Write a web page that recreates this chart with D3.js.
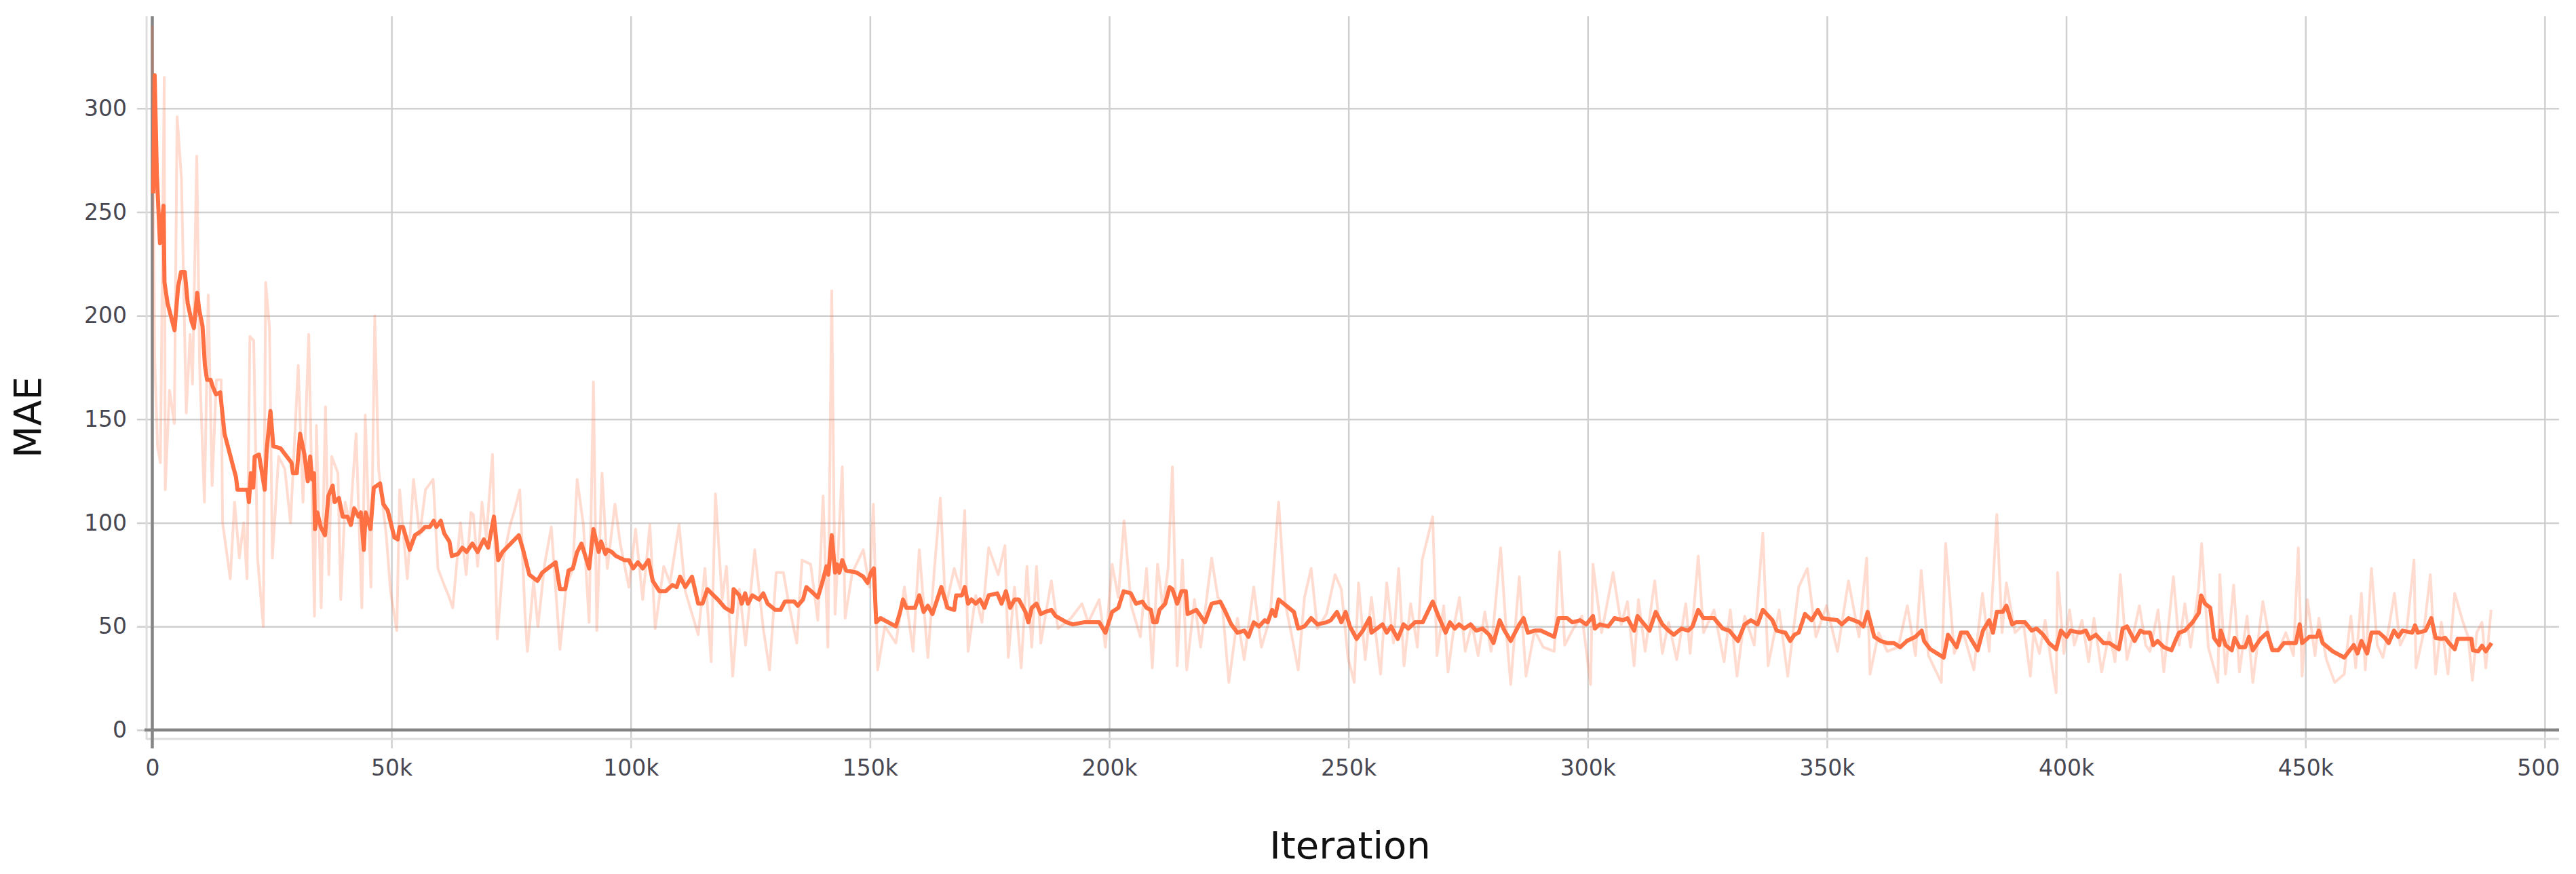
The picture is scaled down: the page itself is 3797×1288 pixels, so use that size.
<!DOCTYPE html>
<html>
<head>
<meta charset="utf-8">
<script src="https://cdnjs.cloudflare.com/ajax/libs/d3/7.8.5/d3.min.js"></script>
<style>
html, body { margin: 0; padding: 0; background: #ffffff; }
svg { display: block; }
</style>
</head>
<body>
<div id="chart"></div>
<script>
"use strict"

const width = 3797;
const height = 1288;
const plotLeft = 216;
const plotRight = 3772;
const plotTop = 24;
const plotBottom = 1089;
const tickStub = 14;

const lineColor = "#ff7043";
const gridColor = "#d0d0d0";
const axisColor = "#858585";
const tickTextColor = "#474752";

// iterations are in thousands
const xDomain = [-1.2, 503];
const yDomain = [-4.3, 344.5];

const xTicks = [0, 50, 100, 150, 200, 250, 300, 350, 400, 450, 500];
const xTickLabels = ["0", "50k", "100k", "150k", "200k", "250k", "300k", "350k", "400k", "450k", "500k"];
const yTicks = [0, 50, 100, 150, 200, 250, 300];
const yTickLabels = ["0", "50", "100", "150", "200", "250", "300"];

const xTitle = "Iteration";
const yTitle = "MAE";

// smoothed curve
const smoothIter = [
    0.2, 0.5, 0.96, 1.6, 2.35, 2.55, 3.2, 4.65, 5.4, 6.0, 6.8, 7.4, 8.24, 8.7, 9.4, 9.8, 10.5, 11.0, 11.45, 12.2,
    12.6, 13.3, 14.2, 15.1, 17.5, 17.8, 19.9, 20.2, 20.6, 21.1, 21.4, 22.3, 23.5, 23.9, 24.7, 25.3, 26.8, 29.1, 29.4, 30.2,
    30.9, 31.8, 32.5, 33.0, 33.4, 33.8, 34.0, 34.5, 35.2, 36.1, 36.8, 37.7, 38.1, 39.0, 39.8, 40.8, 41.5, 42.2, 43.1, 43.6,
    44.2, 44.6, 45.6, 46.3, 47.6, 48.3, 49.2, 50.6, 51.3, 51.7, 52.4, 53.8, 54.9, 56.2, 57.0, 58.0, 58.8, 59.4, 60.3, 61.0,
    62.1, 62.6, 63.9, 64.8, 65.7, 66.9, 68.0, 69.3, 70.2, 71.4, 72.3, 73.2, 76.6, 77.5, 78.8, 80.5, 81.5, 84.3, 85.2, 86.3,
    87.0, 87.9, 88.8, 89.7, 91.3, 92.2, 93.3, 93.8, 94.7, 95.1, 96.0, 96.9, 98.7, 99.6, 100.5, 101.5, 102.5, 103.7, 104.6, 106.0,
    107.3, 108.7, 109.6, 110.3, 111.4, 112.8, 114.1, 115.0, 116.0, 117.3, 118.2, 119.7, 121.2, 121.5, 122.7, 123.2, 123.9, 124.5, 125.4, 126.8,
    127.7, 128.6, 130.2, 131.3, 132.2, 134.2, 134.9, 136.0, 136.7, 137.7, 139.1, 140.0, 140.9, 141.3, 142.0, 142.7, 143.1, 143.6, 144.2, 145.0,
    147.2, 148.6, 149.5, 150.2, 150.8, 151.3, 152.2, 155.4, 156.3, 156.9, 157.6, 159.4, 160.3, 161.2, 162.1, 163.05, 164.9, 166.2, 167.6, 168.0,
    169.2, 169.8, 170.5, 171.2, 172.1, 173.0, 173.9, 174.8, 176.6, 177.5, 178.4, 179.3, 180.2, 181.1, 182.5, 183.1, 183.8, 184.8, 185.7, 186.6,
    187.9, 188.8, 191.1, 192.4, 194.7, 196.5, 197.9, 199.2, 200.6, 201.9, 203.0, 204.5, 205.6, 206.9, 207.8, 208.7, 209.2, 209.9, 210.5, 211.7,
    212.6, 213.2, 214.2, 215.1, 216.0, 216.4, 218.2, 220.0, 221.4, 223.2, 224.1, 225.5, 226.8, 228.2, 229.1, 230.2, 231.3, 232.5, 233.1, 234.05,
    234.7, 235.4, 238.6, 239.5, 240.8, 242.2, 243.5, 245.4, 246.3, 247.6, 248.5, 249.4, 250.3, 251.7, 253.0, 254.4, 254.8, 257.1, 258.0, 258.9,
    260.3, 261.5, 262.5, 263.9, 265.5, 267.6, 268.8, 270.3, 271.2, 272.2, 273.1, 274.2, 275.5, 276.7, 278.0, 279.4, 280.3, 281.6, 282.6, 283.9,
    285.7, 286.6, 287.5, 288.9, 290.2, 293.0, 293.9, 295.7, 296.8, 298.4, 299.7, 301.1, 301.5, 302.5, 304.3, 305.6, 307.4, 308.3, 309.7, 310.4,
    312.9, 314.2, 315.6, 316.9, 318.0, 319.6, 321.0, 321.9, 323.1, 324.2, 326.4, 328.2, 329.6, 331.4, 332.8, 334.1, 335.5, 336.6, 338.6, 339.5,
    341.3, 342.3, 343.2, 344.1, 345.4, 346.8, 348.1, 349.0, 352.2, 353.1, 354.5, 356.7, 357.6, 358.5, 359.9, 361.2, 362.6, 364.0, 365.3, 366.7,
    368.5, 369.8, 370.3, 371.6, 373.0, 374.4, 375.3, 376.2, 377.1, 378.0, 379.3, 381.5, 382.6, 383.9, 384.7, 385.5, 386.7, 387.5, 388.7, 389.5,
    391.4, 392.8, 393.8, 395.2, 396.4, 397.9, 398.9, 400.1, 400.9, 402.9, 404.1, 404.9, 406.2, 407.8, 409.0, 411.0, 411.8, 412.7, 414.3, 415.5,
    416.3, 417.5, 418.2, 419.1, 420.4, 422.0, 422.8, 423.6, 424.8, 426.4, 427.7, 428.2, 429.0, 430.1, 430.9, 432.0, 432.3, 433.3, 434.6, 435.2,
    436.2, 437.4, 438.2, 439.0, 440.6, 442.0, 443.1, 444.3, 445.5, 448.0, 448.8, 449.3, 450.8, 452.4, 452.8, 453.6, 455.7, 458.1, 460.1, 460.9,
    461.7, 462.9, 463.8, 465.4, 466.6, 467.4, 468.5, 469.4, 470.3, 472.3, 472.9, 473.5, 475.1, 476.3, 477.2, 478.4, 479.2, 480.0, 481.2, 481.8,
    484.7, 485.0, 486.1, 486.9, 487.7, 488.9
];
const smoothMae = [
    259, 316, 268, 235, 253, 216, 206, 193, 214, 221, 221, 206, 197, 194, 211, 203, 195, 176, 169, 169,
    166, 162, 163, 143, 122, 116, 116, 110, 124, 117, 132, 133, 116, 135, 154, 137, 136, 129, 124, 124,
    143, 133, 120, 132, 121, 124, 97, 105, 98, 94, 113, 118, 110, 112, 103, 103, 99, 107, 103, 105,
    87, 105, 97, 117, 119, 109, 106, 93, 92, 98, 98, 87, 94, 96, 98, 98, 101, 98, 101, 95,
    91, 84, 85, 88, 86, 90, 86, 92, 88, 103, 82, 86, 94, 87, 75, 72, 76, 81, 68, 68,
    77, 78, 86, 90, 78, 97, 86, 91, 85, 87, 86, 84, 82, 82, 78, 81, 78, 82, 72, 67,
    67, 70, 69, 74, 69, 74, 61, 61, 68, 65, 63, 59, 57, 68, 65, 61, 66, 61, 65, 63,
    66, 61, 58, 58, 62, 62, 60, 63, 69, 67, 64, 71, 79, 75, 94, 76, 80, 76, 82, 77,
    76, 74, 71, 76, 78, 52, 54, 50, 57, 63, 59, 59, 65, 57, 60, 56, 69, 59, 58, 65,
    65, 69, 61, 63, 61, 63, 59, 65, 66, 61, 67, 59, 63, 63, 57, 52, 59, 61, 56, 57,
    58, 55, 52, 51, 52, 52, 52, 47, 57, 59, 67, 66, 61, 62, 59, 58, 52, 52, 58, 61,
    69, 68, 61, 67, 67, 56, 58, 52, 61, 62, 58, 51, 47, 48, 45, 52, 50, 53, 52, 58,
    55, 63, 57, 49, 50, 54, 51, 52, 53, 57, 52, 57, 50, 44, 48, 54, 47, 51, 47, 50,
    44, 51, 49, 52, 52, 62, 55, 47, 52, 49, 51, 49, 51, 48, 49, 46, 42, 53, 48, 43,
    51, 54, 47, 48, 48, 45, 54, 54, 52, 53, 51, 55, 49, 51, 50, 54, 53, 54, 48, 55,
    48, 57, 51, 48, 46, 49, 48, 50, 58, 54, 54, 49, 48, 43, 51, 53, 51, 58, 53, 48,
    47, 43, 46, 47, 56, 53, 58, 54, 53, 51, 54, 52, 50, 57, 45, 43, 42, 42, 40, 43,
    45, 48, 43, 39, 37, 35, 46, 43, 40, 47, 47, 38.5, 48, 53, 47, 57, 57, 60, 51, 52,
    52, 48, 49, 46, 42, 39, 48, 45, 48, 47, 48, 44, 46, 42, 42, 39, 49, 50, 43, 48,
    47, 47, 41, 43, 40, 38.5, 43, 47, 48, 52, 56.5, 65, 61, 59, 44.5, 41, 48, 41, 38.5, 44.5,
    40, 40, 45, 38.5, 44, 47, 38.5, 38.5, 42, 42, 51, 42, 45, 45, 48, 42, 38, 35, 41, 37,
    43, 37, 47, 47, 44.5, 42, 48, 45, 48, 47, 50.5, 47, 48, 54, 44.5, 44, 44.5, 42, 39, 44,
    44, 38.5, 38, 40.7, 38, 42
];

// raw (unsmoothed) curve
const rawIter = [
    0, 0.5, 1.1, 1.7, 2.5, 2.7, 3.6, 4.6, 5.2, 6.1, 7.1, 7.9, 8.4, 9.3, 9.9, 10.9, 11.7, 12.5, 13.4, 14.4,
    14.7, 16.3, 17.2, 18.2, 19.1, 19.8, 20.4, 21.2, 22.0, 23.2, 23.7, 24.5, 25.1, 26.4, 27.7, 28.9, 30.5, 31.5, 32.7, 33.9,
    34.3, 35.3, 36.2, 36.9, 37.5, 38.8, 39.4, 40.3, 41.3, 42.6, 43.8, 44.5, 45.7, 46.5, 47.3, 48.9, 49.8, 51.1, 51.7, 53.3,
    54.6, 55.9, 57.1, 58.7, 59.7, 61.0, 61.9, 62.8, 64.4, 65.6, 66.6, 67.1, 68.0, 68.9, 69.8, 71.1, 72.1, 73.4, 74.8, 75.7,
    76.8, 77.9, 78.4, 79.7, 80.6, 82.0, 83.4, 85.2, 86.5, 87.9, 88.8, 90.1, 91.3, 92.2, 92.9, 94.0, 95.1, 96.7, 97.8, 99.6,
    101.0, 102.5, 104.0, 105.1, 106.9, 108.2, 110.1, 111.4, 114.1, 115.5, 116.8, 117.7, 119.1, 120.0, 121.3, 122.7, 124.0, 125.9, 127.7, 129.0,
    130.4, 131.9, 133.1, 134.7, 135.8, 137.6, 139.1, 140.2, 141.2, 142.0, 142.7, 144.2, 144.8, 146.3, 148.6, 149.9, 150.7, 151.6, 153.1, 155.4,
    157.2, 159.0, 160.3, 162.1, 163.5, 164.7, 165.8, 167.6, 168.9, 169.8, 170.5, 172.1, 173.4, 174.8, 176.8, 178.2, 178.9, 180.2, 181.6, 182.8,
    183.8, 184.8, 185.7, 187.9, 189.3, 192.0, 194.3, 195.6, 197.9, 199.2, 200.6, 201.9, 203.1, 204.6, 206.5, 207.8, 209.0, 210.1, 211.2, 212.3,
    213.2, 214.2, 215.3, 216.2, 217.8, 219.1, 221.4, 222.7, 223.6, 225.0, 226.8, 228.2, 230.2, 231.8, 233.6, 235.4, 236.8, 238.1, 239.5, 240.8,
    242.2, 243.5, 245.4, 247.2, 248.5, 249.9, 251.2, 252.1, 253.5, 254.8, 256.7, 258.0, 259.4, 260.5, 261.6, 263.0, 264.4, 265.4, 267.6, 268.5,
    269.9, 270.8, 272.2, 273.2, 274.4, 275.8, 277.1, 278.5, 279.8, 281.8, 283.0, 283.9, 285.7, 287.1, 288.9, 290.7, 293.0, 294.1, 295.2, 297.0,
    298.8, 300.6, 301.1, 302.9, 305.3, 307.0, 308.3, 309.7, 310.6, 312.0, 314.0, 315.6, 316.9, 318.6, 320.5, 321.4, 323.1, 324.2, 326.4, 328.5,
    329.8, 331.2, 332.8, 334.8, 336.6, 337.7, 340.0, 341.8, 344.1, 345.9, 347.7, 349.9, 352.2, 354.5, 356.7, 358.3, 359.0, 360.8, 362.6, 364.9,
    366.8, 368.5, 369.7, 371.2, 373.9, 374.8, 376.6, 378.5, 380.7, 382.5, 383.9, 385.5, 386.6, 387.5, 389.3, 391.1, 392.5, 393.2, 394.4, 395.6,
    396.8, 397.9, 398.2, 399.5, 400.7, 401.7, 403.3, 404.7, 405.8, 407.4, 409.0, 410.2, 411.3, 412.7, 414.1, 415.3, 416.6, 417.5, 419.2, 420.4,
    422.4, 423.6, 424.8, 426.0, 427.7, 428.3, 429.7, 431.7, 432.1, 433.3, 435.0, 436.2, 437.8, 439.0, 441.1, 442.7, 444.3, 445.9, 447.5, 448.5,
    449.3, 450.4, 452.0, 452.8, 454.4, 456.1, 458.1, 459.5, 460.5, 461.7, 462.5, 463.8, 465.0, 466.2, 467.4, 468.6, 469.8, 471.1, 472.7, 473.1,
    474.7, 476.1, 477.2, 478.4, 479.8, 481.2, 482.8, 484.0, 484.9, 485.8, 486.9, 487.7, 488.8
];
const rawMae = [
    340, 180, 137, 129, 315, 116, 164, 148, 296, 266, 153, 191, 167, 277, 175, 110, 210, 118, 169, 169,
    100, 73, 110, 83, 100, 73, 190, 188, 83, 50, 216, 194, 83, 132, 126, 100, 176, 110, 191, 55,
    147, 59, 156, 75, 132, 124, 63, 110, 100, 143, 59, 152, 69, 200, 126, 94, 67, 48, 116, 73,
    121, 94, 116, 121, 78, 70, 65, 59, 100, 75, 105, 104, 79, 110, 93, 133, 44, 83, 99, 106,
    116, 56, 38, 72, 50, 80, 98, 39, 69, 78, 121, 99, 52, 168, 48, 124, 78, 109, 90, 69,
    97, 63, 99, 49, 79, 71, 99, 67, 46, 78, 33, 114, 63, 79, 26, 68, 41, 87, 49, 29,
    76, 76, 60, 42, 82, 80, 53, 113, 40, 212, 56, 127, 54, 76, 87, 69, 109, 29, 50, 42,
    69, 38, 87, 35, 79, 112, 59, 78, 68, 106, 38, 65, 52, 88, 75, 89, 35, 69, 30, 79,
    40, 79, 42, 72, 49, 54, 61, 52, 63, 40, 80, 64, 101, 60, 45, 78, 30, 80, 59, 78,
    127, 31, 82, 29, 63, 40, 83, 64, 61, 23, 54, 34, 69, 40, 54, 110, 61, 46, 29, 64,
    78, 49, 56, 75, 68, 35, 23, 71, 34, 64, 27, 71, 42, 78, 31, 61, 40, 82, 103, 36,
    60, 28, 52, 64, 38, 51, 36, 57, 38, 88, 47, 22, 74, 26, 48, 40, 38, 86, 41, 49,
    55, 22, 80, 47, 76, 51, 62, 31, 63, 38, 72, 37, 52, 34, 61, 37, 84, 47, 58, 33,
    58, 26, 55, 41, 95, 31, 58, 26, 69, 78, 45, 60, 38, 72, 45, 83, 27, 47, 38, 40,
    60, 36, 77, 36, 23, 90, 37, 47, 29, 66, 38, 104, 47, 71, 47, 51, 26, 47, 37, 53,
    34, 18, 76, 37, 58, 41, 53, 33, 54, 28, 47, 33, 75, 34, 47, 60, 41, 38, 58, 28,
    74, 41, 61, 40, 69, 90, 40, 23, 75, 27, 70, 28, 55, 23, 62, 41, 38, 47, 36, 88,
    26, 63, 36, 54, 34, 23, 27, 55, 30, 66, 29, 78, 41, 35, 49, 66, 41, 47, 82, 30,
    47, 75, 27, 52, 27, 66, 53, 45, 24, 47, 52, 30, 58
];


function CreateSVG()
{
    return d3.select("#chart")
        .append("svg")
            .attr("width", width)
            .attr("height", height)
            .style("background", "#ffffff");
}


function CreateScales()
{
    const x = d3.scaleLinear()
        .domain(xDomain)
        .range([plotLeft, plotRight]);

    const y = d3.scaleLinear()
        .domain(yDomain)
        .range([plotBottom, plotTop]);

    return { x, y };
}


function DrawGrid(svg, scales)
{
    const xAxisY = scales.y(0) + tickStub + 13;

    // the original chart cuts its last label at the plot's right edge
    // (clip rect is in the axis group's own coordinates, so it starts above it)
    svg.append("clipPath")
        .attr("id", "label-clip")
        .append("rect")
            .attr("x", 0)
            .attr("y", -height)
            .attr("width", plotRight + 1)
            .attr("height", height * 2);

    const xAxis = d3.axisBottom(scales.x)
        .tickValues(xTicks)
        .tickFormat((_, i) => xTickLabels[i])
        .tickSizeInner(-(xAxisY - plotTop))
        .tickSizeOuter(0)
        .tickPadding(17);

    const xGroup = svg.append("g")
        .attr("transform", `translate(0, ${xAxisY})`)
        .attr("clip-path", "url(#label-clip)")
        .call(xAxis);

    const yAxis = d3.axisLeft(scales.y)
        .tickValues(yTicks)
        .tickFormat((_, i) => yTickLabels[i])
        .tickSizeInner(-(plotRight - (plotLeft - tickStub)))
        .tickSizeOuter(0)
        .tickPadding(15);

    const yGroup = svg.append("g")
        .attr("transform", `translate(${plotLeft - tickStub}, 0)`)
        .call(yAxis);

    [xGroup, yGroup].forEach(group => {
        group.select(".domain").remove();
        group.selectAll(".tick line")
            .attr("stroke", gridColor)
            .attr("stroke-width", 2.5);
        group.selectAll(".tick text")
            .attr("font-family", "'DejaVu Sans', Verdana, sans-serif")
            .attr("font-size", 33)
            .attr("fill", tickTextColor);
    });

    // light frame lines on the left and bottom of the plot area
    svg.append("line")
        .attr("x1", plotLeft)
        .attr("x2", plotLeft)
        .attr("y1", plotTop)
        .attr("y2", plotBottom + 1)
        .attr("stroke", "#dddddd")
        .attr("stroke-width", 3);

    svg.append("line")
        .attr("x1", plotLeft)
        .attr("x2", plotRight)
        .attr("y1", plotBottom)
        .attr("y2", plotBottom)
        .attr("stroke", "#dddddd")
        .attr("stroke-width", 3);

    // darker zero lines
    svg.append("line")
        .attr("x1", scales.x(0))
        .attr("x2", scales.x(0))
        .attr("y1", plotTop)
        .attr("y2", xAxisY)
        .attr("stroke", axisColor)
        .attr("stroke-width", 4.5);

    svg.append("line")
        .attr("x1", plotLeft - 3)
        .attr("x2", plotRight)
        .attr("y1", scales.y(0))
        .attr("y2", scales.y(0))
        .attr("stroke", axisColor)
        .attr("stroke-width", 4.5);
}


function DrawLines(svg, scales)
{
    svg.append("clipPath")
        .attr("id", "plot-clip")
        .append("rect")
            .attr("x", plotLeft)
            .attr("y", plotTop)
            .attr("width", plotRight - plotLeft)
            .attr("height", plotBottom - plotTop);

    const rawData = rawIter.map((d, i) => [d, rawMae[i]]);
    const smoothData = smoothIter.map((d, i) => [d, smoothMae[i]]);

    const line = d3.line()
        .x(d => scales.x(d[0]))
        .y(d => scales.y(d[1]));

    const plot = svg.append("g")
        .attr("clip-path", "url(#plot-clip)");

    plot.append("path")
        .datum(rawData)
        .attr("d", line)
        .attr("fill", "none")
        .attr("stroke", lineColor)
        .attr("stroke-opacity", 0.25)
        .attr("stroke-width", 4)
        .attr("stroke-linejoin", "round");

    plot.append("path")
        .datum(smoothData)
        .attr("d", line)
        .attr("fill", "none")
        .attr("stroke", lineColor)
        .attr("stroke-width", 6)
        .attr("stroke-linejoin", "round");
}


function DrawTitles(svg)
{
    svg.append("text")
        .attr("x", (plotLeft + plotRight) / 2 - 4)
        .attr("y", 1265)
        .attr("text-anchor", "middle")
        .attr("font-family", "'DejaVu Sans', Verdana, sans-serif")
        .attr("font-size", 56)
        .attr("fill", "#111111")
        .text(xTitle);

    svg.append("text")
        .attr("transform", "translate(60, 615) rotate(-90)")
        .attr("text-anchor", "middle")
        .attr("font-family", "'DejaVu Sans', Verdana, sans-serif")
        .attr("font-size", 55)
        .attr("fill", "#111111")
        .text(yTitle);
}


function CreateChart()
{
    const svg = CreateSVG();
    const scales = CreateScales();

    DrawGrid(svg, scales);
    DrawLines(svg, scales);
    DrawTitles(svg);
}


CreateChart();
</script>
</body>
</html>
